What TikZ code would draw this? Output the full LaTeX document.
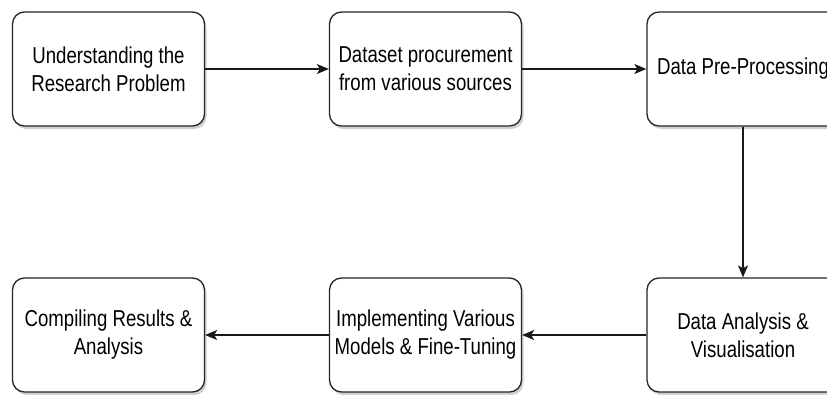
\documentclass[tikz,border=0pt]{standalone}
\usepackage{fontspec}
\setmainfont{Liberation Sans}[FakeStretch=0.81]
\usetikzlibrary{arrows.meta,shadows}
\begin{document}
\begin{tikzpicture}[x=1pt,y=-1pt,
  stagebox/.style={draw=black!85, line width=1.3pt, rounded corners=12pt, fill=white,
    minimum width=192pt, minimum height=114pt, inner sep=0pt, align=center,
    font=\fontsize{23}{28}\selectfont, text=black,
    drop shadow={shadow xshift=2pt, shadow yshift=-3pt, opacity=0.3, fill=black!60}},
  flow/.style={draw=black!90, line width=1.3pt, -{Stealth[length=12pt,width=10pt,inset=3pt]}}]
\clip (0,0) rectangle (827,394);
\fill[white] (0,0) rectangle (827,394);
% top row, left to right
\node[stagebox] (understand) at (108.5,69) {Understanding the\\Research Problem};
\node[stagebox] (procure) at (425.5,69) {Dataset procurement\\from various sources};
\node[stagebox] (preproc) at (743,69) {Data Pre-Processing};
% bottom row, right to left
\node[stagebox] (analysis) at (743,335) {Data Analysis \&\\Visualisation};
\node[stagebox] (models) at (425.5,335) {Implementing Various\\Models \& Fine-Tuning};
\node[stagebox] (results) at (108.5,335) {Compiling Results \&\\Analysis};
\draw[flow] (understand) -- (procure);
\draw[flow] (procure) -- (preproc);
\draw[flow] (preproc) -- (analysis);
\draw[flow] (analysis) -- (models);
\draw[flow] (models) -- (results);
\end{tikzpicture}
\end{document}
